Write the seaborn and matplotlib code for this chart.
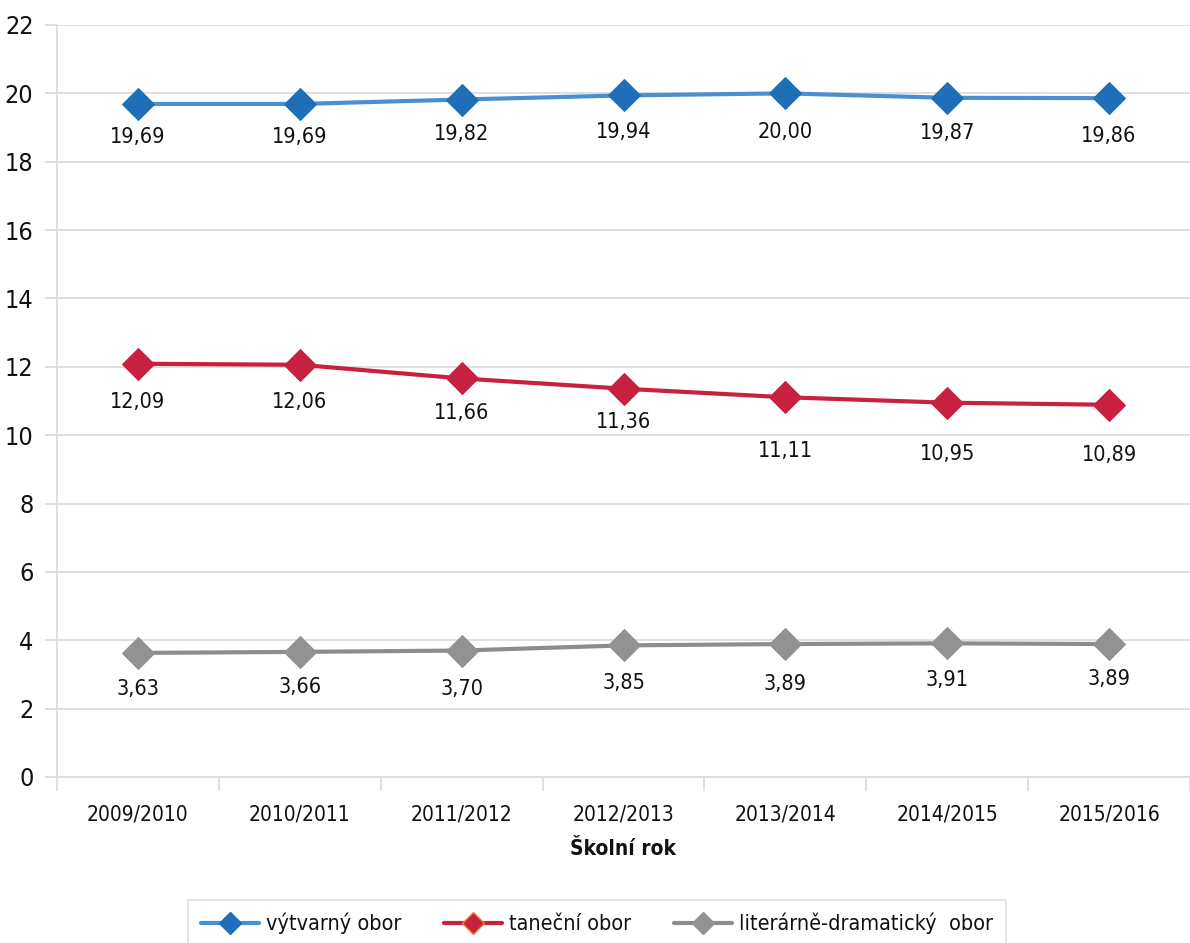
import pandas as pd
import numpy as np
import seaborn as sns
import matplotlib.pyplot as plt
from matplotlib.lines import Line2D

# data
roky = ['2009/2010', '2010/2011', '2011/2012', '2012/2013', '2013/2014', '2014/2015', '2015/2016']
vytvarny = [19.69, 19.69, 19.82, 19.94, 20.00, 19.87, 19.86]
tanecni = [12.09, 12.06, 11.66, 11.36, 11.11, 10.95, 10.89]
literarne = [3.63, 3.66, 3.70, 3.85, 3.89, 3.91, 3.89]
obory = ['výtvarný obor', 'taneční obor', 'literárně-dramatický  obor']

line_cols = ['#4a90d0', '#c8203f', '#8c8c8c']
mark_cols = ['#1f6fb8', '#c8203f', '#929292']
# posun popisku pod bod (px), jako v Excelu
posuny = [[33, 33, 34, 37, 39, 35, 38],
          [38, 37, 35, 33, 54, 51, 50],
          [36, 35, 38, 38, 40, 37, 35]]

sns.set_theme(style='white')
plt.rcParams['font.family'] = ['DejaVu Sans']
plt.rcParams['font.stretch'] = 'condensed'
plt.rcParams['text.color'] = '#111111'
plt.rcParams['axes.labelcolor'] = '#111111'

df = pd.DataFrame({'rok': roky * 3,
                   'hodnota': vytvarny + tanecni + literarne,
                   'obor': [o for o in obory for _ in roky]})

fig = plt.figure(figsize=(11.9, 9.43), dpi=100)
ax = fig.add_axes([57 / 1190, 1 - 777 / 943, 1 - 57 / 1190, (777 - 25) / 943])

for i, obor in enumerate(obory):
    sub = df[df['obor'] == obor]
    sns.lineplot(data=sub, x='rok', y='hodnota', ax=ax, sort=False,
                 color=line_cols[i], linewidth=3, marker='D', markersize=16,
                 markerfacecolor=mark_cols[i], markeredgecolor=mark_cols[i],
                 legend=False)
    # popisky hodnot pod body
    for j, v in enumerate(sub['hodnota']):
        ax.annotate(f'{v:.2f}'.replace('.', ','), (j, v), xytext=(0, -posuny[i][j] * 0.72),
                    textcoords='offset points', ha='center', va='center',
                    fontsize=15.5, color='#111111')

ax.set_xlim(-0.5, 6.4)
ax.set_ylim(0, 22)
ax.set_yticks(np.arange(0, 23, 2))
ax.grid(axis='y', color='#d9d9d9', linewidth=1.2)
ax.grid(axis='x', visible=False)
for s in ['top', 'right']:
    ax.spines[s].set_visible(False)
for s in ['left', 'bottom']:
    ax.spines[s].set_color('#d9d9d9')
    ax.spines[s].set_linewidth(1.2)

ax.set_xticks(np.arange(len(roky)))
ax.set_xticklabels(roky, fontsize=15)
ax.tick_params(axis='x', length=0, pad=20, labelcolor='#111111')
ax.set_xticks(np.arange(-0.5, len(roky), 1), minor=True)
ax.tick_params(axis='x', which='minor', length=10, color='#d9d9d9', width=1.2, bottom=True)
ax.tick_params(axis='y', labelsize=18, length=9, color='#d9d9d9', width=1.2, left=True, pad=8,
               labelcolor='#111111')
ax.set_ylabel('')
ax.set_xlabel('Školní rok', fontsize=15, fontweight='bold', labelpad=10)

handles = [Line2D([0], [0], color=line_cols[i], linewidth=3, marker='D', markersize=11,
                  markerfacecolor=mark_cols[i],
                  markeredgecolor='#f08030' if i == 1 else mark_cols[i])
           for i in range(3)]
leg = fig.legend(handles, obory, loc='upper center', bbox_to_anchor=(597 / 1190, 1 - 900 / 943),
                 ncol=3, fontsize=15.5, frameon=True, fancybox=False, edgecolor='#d9d9d9',
                 handlelength=2.7, handletextpad=0.3, columnspacing=2.0, borderpad=0.6,
                 borderaxespad=0)
leg.get_frame().set_linewidth(1.2)

fig.savefig('out.png', dpi=100)
